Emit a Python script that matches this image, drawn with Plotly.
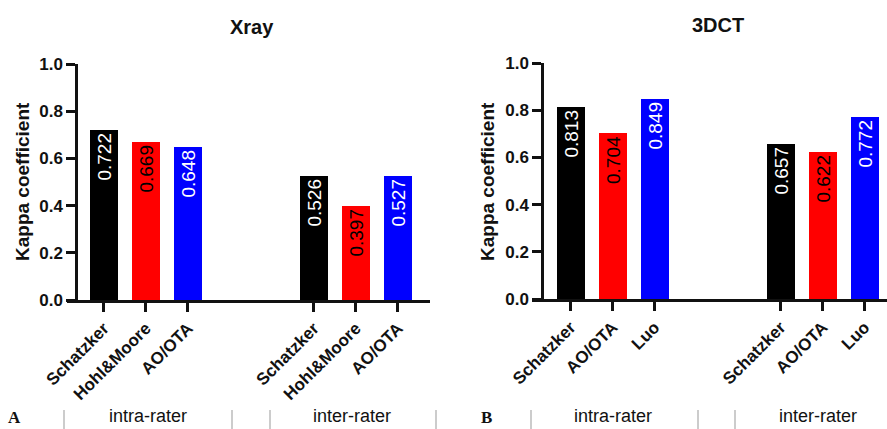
import plotly.graph_objects as go

# ---- data ----
raters = ["intra-rater", "inter-rater"]
xray_methods = ["Schatzker", "Hohl&Moore", "AO/OTA"]
xray_intra = [0.722, 0.669, 0.648]
xray_inter = [0.526, 0.397, 0.527]
ct_methods = ["Schatzker", "AO/OTA", "Luo"]
ct_intra = [0.813, 0.704, 0.849]
ct_inter = [0.657, 0.622, 0.772]
method_colors = ["#000000", "#ff0000", "#0000ff"]
label_colors = ["#ffffff", "#000000", "#ffffff"]
y_ticks = [0.0, 0.2, 0.4, 0.6, 0.8, 1.0]

W, H = 887, 429
FONT = "Liberation Sans, Arial, sans-serif"
GROUP_STEP = 5


def px(x):
    return x / W


def py(y):
    return 1 - y / H


fig = go.Figure()


def add_panel(idx, methods, groups, xdom, xrange_, ydom, yaxis_pos):
    xs, ys, cols, tcols, ticks = [], [], [], [], []
    for g, vals in enumerate(groups):
        for j, v in enumerate(vals):
            xs.append(g * GROUP_STEP + j)
            ys.append(v)
            cols.append(method_colors[j])
            tcols.append(label_colors[j])
            ticks.append(methods[j])
    xa = "x" if idx == 1 else "x2"
    ya = "y" if idx == 1 else "y2"
    fig.add_trace(go.Bar(
        x=xs, y=ys, width=0.667,
        marker=dict(color=cols, line=dict(width=0)),
        text=[f"{v:.3f}" for v in ys],
        textposition="inside", insidetextanchor="end", textangle=-90,
        constraintext="none",
        textfont=dict(family=FONT, size=19, color=tcols),
        xaxis=xa, yaxis=ya, showlegend=False, hoverinfo="skip",
    ))
    xkey = "xaxis" if idx == 1 else "xaxis2"
    ykey = "yaxis" if idx == 1 else "yaxis2"
    fig.update_layout(**{
        xkey: dict(
            domain=xdom, range=xrange_, anchor=ya, automargin=False,
            tickmode="array", tickvals=xs, ticktext=ticks,
            tickangle=-45, ticks="outside", ticklen=9, tickwidth=2.5,
            tickcolor="#111", showline=True, linewidth=2.5, linecolor="#111",
            showgrid=False, zeroline=False,
            tickfont=dict(family=FONT, size=17, color="#111", weight="bold"),
        ),
        ykey: dict(
            domain=ydom, range=[0, 1.0], anchor="free", position=yaxis_pos,
            automargin=False,
            tickmode="array", tickvals=y_ticks,
            ticktext=[f"{t:.1f}" for t in y_ticks],
            ticks="outside", ticklen=9, tickwidth=2.5, tickcolor="#111",
            showline=True, linewidth=2.5, linecolor="#111",
            showgrid=False, zeroline=False,
            tickfont=dict(family=FONT, size=17, color="#111", weight="bold"),
        ),
    })


add_panel(1, xray_methods, [xray_intra, xray_inter],
          [px(67), px(430)], [-0.88, -0.88 + 363 / 42],
          [py(300), py(64)], px(76))
add_panel(2, ct_methods, [ct_intra, ct_inter],
          [px(532), 1.0], [-0.92, -0.92 + 355 / 42],
          [py(299), py(63)], px(542))

ann = []
# titles
for t, x, y in [("Xray", 252, 27), ("3DCT", 718, 25)]:
    ann.append(dict(text=t, x=px(x), y=py(y), xref="paper", yref="paper",
                    showarrow=False, xanchor="center", yanchor="middle",
                    font=dict(family=FONT, size=20, color="#111", weight="bold")))
# y titles
for x, yc in [(22, 182), (487, 181)]:
    ann.append(dict(text="Kappa coefficient", x=px(x), y=py(yc), xref="paper",
                    yref="paper", showarrow=False, textangle=-90,
                    xanchor="center", yanchor="middle",
                    font=dict(family=FONT, size=19, color="#111", weight="bold")))
# group labels
for t, x in [(raters[0], 148), (raters[1], 352), (raters[0], 613), (raters[1], 818)]:
    ann.append(dict(text=t, x=px(x), y=py(416), xref="paper", yref="paper",
                    showarrow=False, xanchor="center", yanchor="middle",
                    font=dict(family=FONT, size=18, color="#111")))
# panel letters
for t, x in [("A", 14), ("B", 486)]:
    ann.append(dict(text=t, x=px(x), y=py(417), xref="paper", yref="paper",
                    showarrow=False, xanchor="center", yanchor="middle",
                    font=dict(family="Liberation Serif, Times New Roman, serif",
                              size=17, color="#111", weight="bold")))

shapes = []
for x in [64, 232, 270, 436, 531, 698, 735]:
    shapes.append(dict(type="line", xref="paper", yref="paper",
                       x0=px(x), x1=px(x), y0=py(410), y1=0,
                       line=dict(color="#999", width=1)))

fig.update_layout(
    width=W, height=H, margin=dict(l=0, r=0, t=0, b=0),
    paper_bgcolor="white", plot_bgcolor="white",
    annotations=ann, shapes=shapes, bargap=0,
)

fig.write_html("out.html")
